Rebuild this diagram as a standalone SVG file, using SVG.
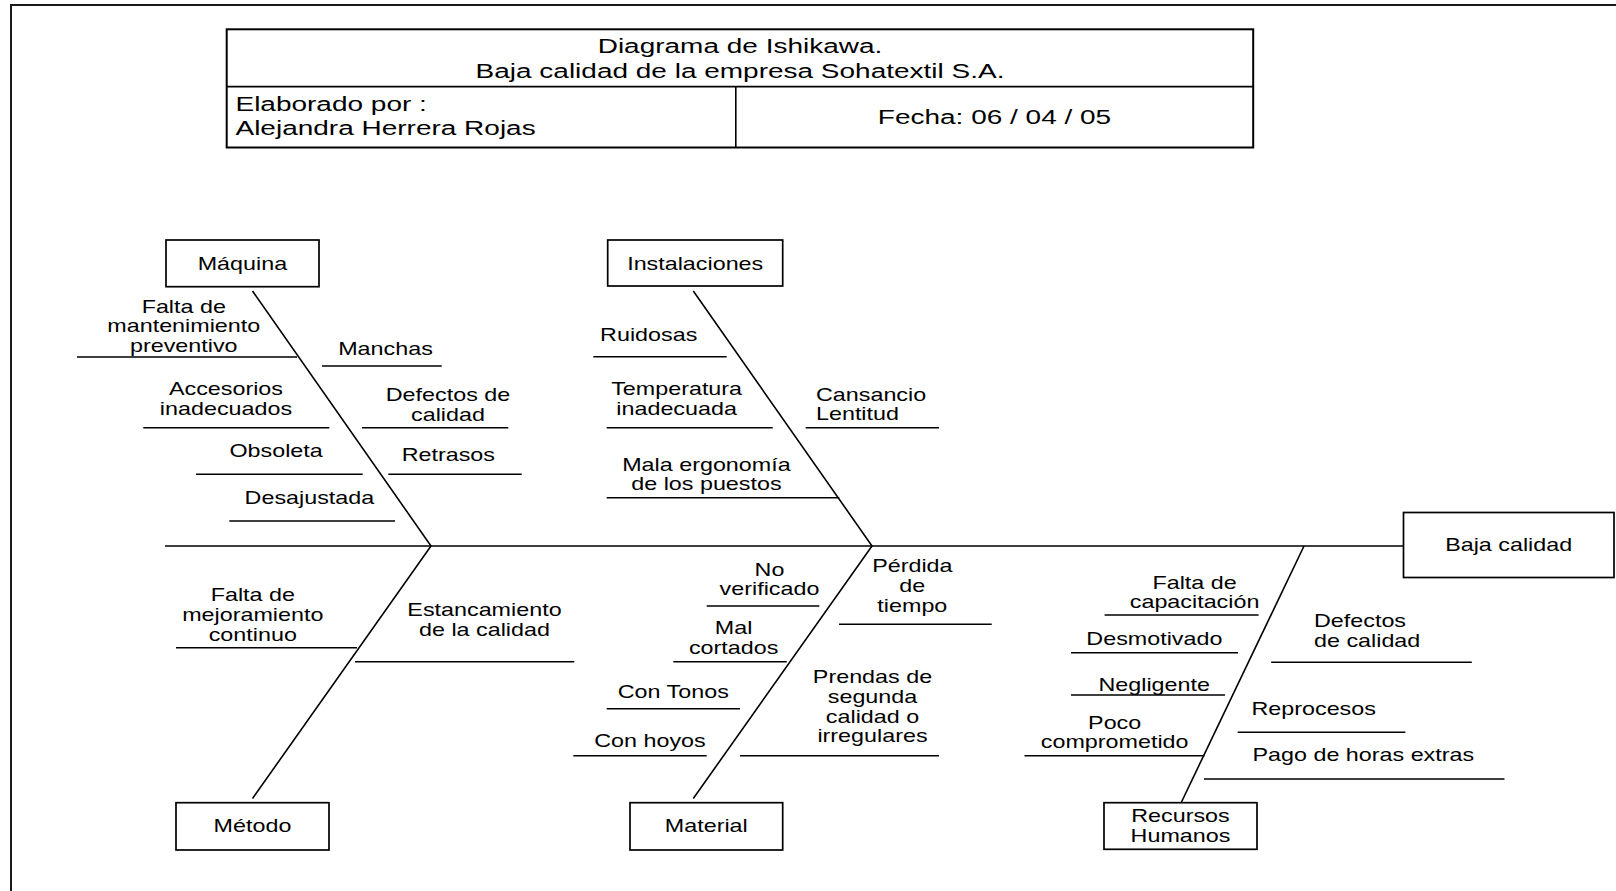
<svg xmlns="http://www.w3.org/2000/svg" width="1616" height="891" viewBox="0 0 1616 891">
  <style>
    text { font-family: "Liberation Sans", Arial, sans-serif; fill: #000; text-anchor: middle;
           transform-box: fill-box; transform-origin: center; transform: scaleX(1.333); }
    text.l { text-anchor: start; transform-origin: left center; }
    .lbl { font-size: 17.5px; transform: translateY(1.5px) scaleX(1.333); }
    .hdr { font-size: 21px; }
    .box { fill: #fff; stroke: #000; stroke-width: 1.7; }
    .ln { fill: none; stroke: #000; stroke-width: 1.6; }
  </style>

  <!-- page frame -->
  <path d="M11 891 V5 H1616" fill="none" stroke="#1a1a1a" stroke-width="2"/>

  <!-- title block -->
  <g id="header">
    <rect x="226.7" y="29.3" width="1026.5" height="118.2" fill="none" stroke="#000" stroke-width="2"/>
    <path d="M226.7 86.6 H1253.2 M735.8 86.6 V147.5" fill="none" stroke="#000" stroke-width="1.6"/>
    <text class="hdr" x="740" y="53.5">Diagrama de Ishikawa.</text>
    <text class="hdr" x="740" y="78">Baja calidad de la empresa Sohatextil S.A.</text>
    <text class="hdr l" x="235.5" y="111">Elaborado por :</text>
    <text class="hdr l" x="235.5" y="135.5">Alejandra Herrera Rojas</text>
    <text class="hdr" x="994.5" y="124">Fecha: 06 / 04 / 05</text>
  </g>

  <!-- spine, bones and cause branches -->
  <g id="connectors" class="ln">
    <path d="M165 546 H1403.5"/>
    <path d="M252.5 291 L431 546 L252.5 798.5"/>
    <path d="M693.3 291 L872 546 L693.3 798.5"/>
    <path d="M1304 546 L1181.5 802"/>
    <!-- Máquina -->
    <path d="M77 357 H297 M322 366 H441.7 M143.3 427.7 H329.3 M362 427.7 H508.3 M196 474.3 H362.7 M388.3 474.3 H521.7 M229.3 521 H395"/>
    <!-- Instalaciones -->
    <path d="M593.3 356.7 H726.7 M606.7 427.7 H772.7 M805.7 427.7 H939 M606.7 497.7 H839.3"/>
    <!-- Método -->
    <path d="M176 647.7 H357 M355 661.7 H574.3"/>
    <!-- Material -->
    <path d="M706.7 606 H819.3 M839 624.3 H991.7 M673.3 661.7 H786.7 M606.7 708.7 H740 M573.3 755.7 H706.7 M740 755.7 H939"/>
    <!-- Recursos Humanos -->
    <path d="M1104.6 615 H1258.6 M1071 652.7 H1238 M1071 695 H1225 M1024.5 755.7 H1204.5 M1271.2 662.3 H1471.8 M1237.7 732.3 H1405.4 M1204 779 H1504.5"/>
  </g>

  <!-- category nodes -->
  <g id="maquina">
    <rect class="box" x="166" y="240" width="153" height="46.7"/>
    <text class="lbl" x="242.5" y="269">Máquina</text>
  </g>
  <g id="instalaciones">
    <rect class="box" x="607.7" y="240" width="175" height="46"/>
    <text class="lbl" x="695.2" y="269">Instalaciones</text>
  </g>
  <g id="metodo">
    <rect class="box" x="176" y="802.7" width="153" height="47.3"/>
    <text class="lbl" x="252.5" y="831">Método</text>
  </g>
  <g id="material">
    <rect class="box" x="630" y="802.7" width="152.7" height="47.3"/>
    <text class="lbl" x="706.3" y="831">Material</text>
  </g>
  <g id="recursos-humanos">
    <rect class="box" x="1104" y="802.7" width="153" height="46.6"/>
    <text class="lbl" x="1180.5" y="820.7">Recursos<tspan x="1180.5" y="840.5">Humanos</tspan></text>
  </g>

  <!-- effect node -->
  <g id="efecto">
    <rect class="box" x="1403.5" y="512.5" width="210.5" height="65"/>
    <text class="lbl" x="1508.7" y="550">Baja calidad</text>
  </g>

  <!-- causes: Máquina -->
  <g id="causas-maquina">
    <text class="lbl" x="183.8" y="311.5">Falta de<tspan x="183.8" y="331">mantenimiento</tspan><tspan x="183.8" y="350.5">preventivo</tspan></text>
    <text class="lbl" x="385.5" y="353.3">Manchas</text>
    <text class="lbl" x="226" y="394">Accesorios<tspan x="226" y="414">inadecuados</tspan></text>
    <text class="lbl" x="448" y="400">Defectos de<tspan x="448" y="419.5">calidad</tspan></text>
    <text class="lbl" x="276.2" y="455.3">Obsoleta</text>
    <text class="lbl" x="448.3" y="460">Retrasos</text>
    <text class="lbl" x="309.5" y="502.7">Desajustada</text>
  </g>

  <!-- causes: Instalaciones -->
  <g id="causas-instalaciones">
    <text class="lbl" x="648.7" y="339.3">Ruidosas</text>
    <text class="lbl" x="676.7" y="393.3">Temperatura<tspan x="676.7" y="413.3">inadecuada</tspan></text>
    <text class="lbl l" x="816" y="399.3">Cansancio<tspan x="816" y="419">Lentitud</tspan></text>
    <text class="lbl" x="706.5" y="469.3">Mala ergonomía<tspan x="706.5" y="488.8">de los puestos</tspan></text>
  </g>

  <!-- causes: Método -->
  <g id="causas-metodo">
    <text class="lbl" x="252.8" y="600">Falta de<tspan x="252.8" y="619.5">mejoramiento</tspan><tspan x="252.8" y="639.3">continuo</tspan></text>
    <text class="lbl" x="484.5" y="615">Estancamiento<tspan x="484.5" y="634.5">de la calidad</tspan></text>
  </g>

  <!-- causes: Material -->
  <g id="causas-material">
    <text class="lbl" x="769.5" y="574.3">No<tspan x="769.5" y="594">verificado</tspan></text>
    <text class="lbl" x="912.4" y="571">Pérdida<tspan x="912.4" y="590.7">de</tspan><tspan x="912.4" y="610.3">tiempo</tspan></text>
    <text class="lbl" x="733.6" y="632.7">Mal<tspan x="733.6" y="652.3">cortados</tspan></text>
    <text class="lbl" x="673.3" y="696.7">Con Tonos</text>
    <text class="lbl" x="650" y="746">Con hoyos</text>
    <text class="lbl" x="872.5" y="681.7">Prendas de<tspan x="872.5" y="701.4">segunda</tspan><tspan x="872.5" y="721.1">calidad o</tspan><tspan x="872.5" y="740.8">irregulares</tspan></text>
  </g>

  <!-- causes: Recursos Humanos -->
  <g id="causas-recursos-humanos">
    <text class="lbl" x="1194.6" y="587.3">Falta de<tspan x="1194.6" y="606.5">capacitación</tspan></text>
    <text class="lbl" x="1154.4" y="643.5">Desmotivado</text>
    <text class="lbl" x="1154.2" y="690">Negligente</text>
    <text class="lbl" x="1114.7" y="727.7">Poco<tspan x="1114.7" y="747">comprometido</tspan></text>
    <text class="lbl l" x="1314" y="626">Defectos<tspan x="1314" y="646">de calidad</tspan></text>
    <text class="lbl l" x="1251.5" y="713.3">Reprocesos</text>
    <text class="lbl l" x="1252.5" y="759.3">Pago de horas extras</text>
  </g>
</svg>
